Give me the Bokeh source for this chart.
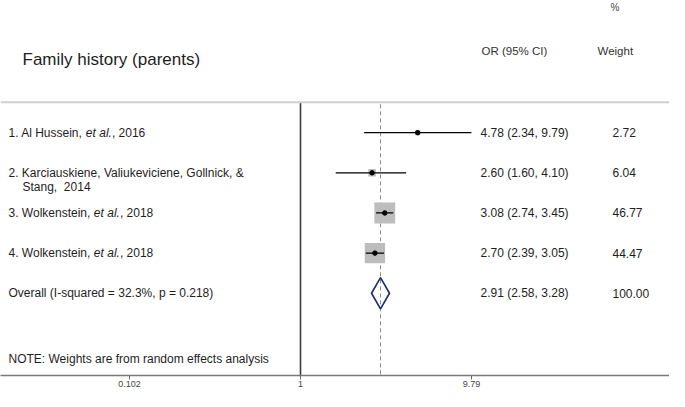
import math
from bokeh.plotting import figure
from bokeh.models import Range1d, LinearScale, FixedTicker, CustomJSTickFormatter, Span
from bokeh.core.properties import value
from bokeh.embed import file_html
from bokeh.resources import INLINE

# ---------------- data ----------------
label_main = ["1. Al Hussein, ",
              "2. Karciauskiene, Valiukeviciene, Gollnick, &",
              "3. Wolkenstein, ",
              "4. Wolkenstein, "]
label_italic = ["et al.", "", "et al.", "et al."]
label_tail = [", 2016", "", ", 2018", ", 2018"]
label_line2 = ["", "Stang,\u00a0 2014", "", ""]
odds_ratio = [4.78, 2.60, 3.08, 2.70]
ci_low = [2.34, 1.60, 2.74, 2.39]
ci_high = [9.79, 4.10, 3.45, 3.05]
weight_pct = [2.72, 6.04, 46.77, 44.47]
overall_label = "Overall (I-squared = 32.3%, p = 0.218)"
overall_or = 2.91
overall_low = 2.58
overall_high = 3.28
overall_weight = 100.00
tick_values = [0.102, 1, 9.79]
title_text = "Family history (parents)"
header_or = "OR (95% CI)"
header_weight = "Weight"
header_pct = "%"
note_text = "NOTE: Weights are from random effects analysis"

# ---------------- layout ----------------
W, H = 669, 391
AXIS_H = 16
REF_X0, REF_X1 = 0, 669
REF_ONE, PX_DECADE = 300.0, 172.5
ROW1_Y, ROW_GAP, FRAME_BOTTOM = 135.0, 41.0, 383.0
FONT = "Liberation Sans"
TEXT = "#1e1e1e"

def ref_row(py):
    return 1 + (py - ROW1_Y) / ROW_GAP

ARIAL = {' ': 278, '\u00a0': 278, ',': 278, '.': 278, '-': 333, '(': 333, ')': 333,
         '&': 667, '%': 889, '=': 584,
         'A': 667, 'B': 667, 'C': 722, 'D': 722, 'E': 667, 'F': 611, 'G': 778,
         'H': 722, 'I': 278, 'J': 500, 'K': 667, 'L': 556, 'M': 833, 'N': 722,
         'O': 778, 'P': 667, 'R': 722, 'S': 667, 'T': 611, 'V': 667, 'W': 944,
         'a': 556, 'b': 556, 'c': 500, 'd': 556, 'e': 556, 'f': 278, 'g': 556,
         'h': 556, 'i': 222, 'j': 222, 'k': 500, 'l': 222, 'm': 833, 'n': 556,
         'o': 556, 'p': 556, 'q': 556, 'r': 333, 's': 500, 't': 278, 'u': 556,
         'v': 500, 'w': 722, 'x': 500, 'y': 500, 'z': 500}

def tw(s, size):
    return sum(ARIAL.get(c, 556) for c in s) * size / 1000.0

x_start = 10 ** ((REF_X0 - REF_ONE) / PX_DECADE)
x_end = 10 ** ((REF_X1 - REF_ONE) / PX_DECADE)
y_bottom = ref_row(FRAME_BOTTOM)
y_top = ref_row(0)
line_top = ref_row(104)

p = figure(width=W, height=H, x_axis_type="log",
           x_range=Range1d(x_start, x_end), y_range=Range1d(y_bottom, y_top),
           output_backend="svg", toolbar_location=None, y_axis_location=None,
           min_border_left=0, min_border_right=0, min_border_top=0,
           min_border_bottom=AXIS_H, background_fill_color="white",
           border_fill_color="white")
p.extra_x_ranges = {"px": Range1d(REF_X0, REF_X1)}
p.extra_x_scales = {"px": LinearScale()}
p.grid.visible = False
p.outline_line_color = None

ax = p.xaxis[0]
ax.ticker = FixedTicker(ticks=tick_values)
ax.formatter = CustomJSTickFormatter(code="return String(tick);")
ax.axis_line_color = "#7a7a7a"
ax.axis_line_width = 1.5
ax.major_tick_line_color = "#666666"
ax.major_tick_out = 4
ax.major_tick_in = 0
ax.minor_tick_line_color = None
ax.major_label_text_font = FONT
ax.major_label_text_font_size = "9px"
ax.major_label_text_color = "#444444"
ax.major_label_standoff = 1

# reference lines
p.add_layout(Span(location=line_top, dimension="width", line_color="#cfcfcf", line_width=2))
p.segment(x0=[1], x1=[1], y0=[line_top], y1=[y_bottom], line_color="#3c3c3c", line_width=1.6)
p.segment(x0=[overall_or], x1=[overall_or], y0=[line_top + 0.05], y1=[y_bottom],
          line_color="#8a8a8a", line_width=1, line_dash="4 3")

rows = [1, 2, 3, 4]
overall_row = 5
box_sizes = [3.05 * math.sqrt(w) for w in weight_pct]
p.scatter(x=odds_ratio, y=rows, marker="square", size=box_sizes,
          fill_color="#bdbdbd", line_color=None)
p.segment(x0=ci_low, x1=ci_high, y0=rows, y1=rows, line_color="black", line_width=1.3)
p.scatter(x=odds_ratio, y=rows, size=4.5, fill_color="black", line_color="black")

dh = 16.0 / ROW_GAP
p.patch(x=[overall_low, overall_or, overall_high, overall_or],
        y=[overall_row, overall_row - dh, overall_row, overall_row + dh],
        fill_color=None, line_color="#222a6e", line_width=1.6)

def txt(x, y, s, size=12, style="normal", color=TEXT):
    p.text(x=[x], y=[y], text=[s], x_range_name="px",
           text_font=value(FONT), text_font_size=f"{size}px",
           text_font_style=style, text_color=color,
           text_align="left", text_baseline="middle")

# headers
txt(610, ref_row(7), header_pct, size=10, color="#444444")
txt(22, ref_row(60), title_text, size=17)
txt(481, ref_row(52), header_or, size=11.5, color="#333333")
txt(597, ref_row(52), header_weight, size=11.5, color="#333333")

# study rows
for i, r in enumerate(rows):
    x = 8
    txt(x, r, label_main[i])
    x += tw(label_main[i], 12)
    if label_italic[i]:
        txt(x, r, label_italic[i], style="italic")
        x += tw(label_italic[i], 12)
    if label_tail[i]:
        txt(x, r, label_tail[i])
    if label_line2[i]:
        txt(22, r + 14.0 / ROW_GAP, label_line2[i])
    txt(480, r, f"{odds_ratio[i]:.2f} ({ci_low[i]:.2f}, {ci_high[i]:.2f})")
    txt(612, r, f"{weight_pct[i]:.2f}")

txt(8, overall_row, overall_label)
txt(480, overall_row, f"{overall_or:.2f} ({overall_low:.2f}, {overall_high:.2f})")
txt(612, overall_row, f"{overall_weight:.2f}")
txt(8, ref_row(366), note_text)

open("out.html", "w").write(file_html(p, INLINE))
